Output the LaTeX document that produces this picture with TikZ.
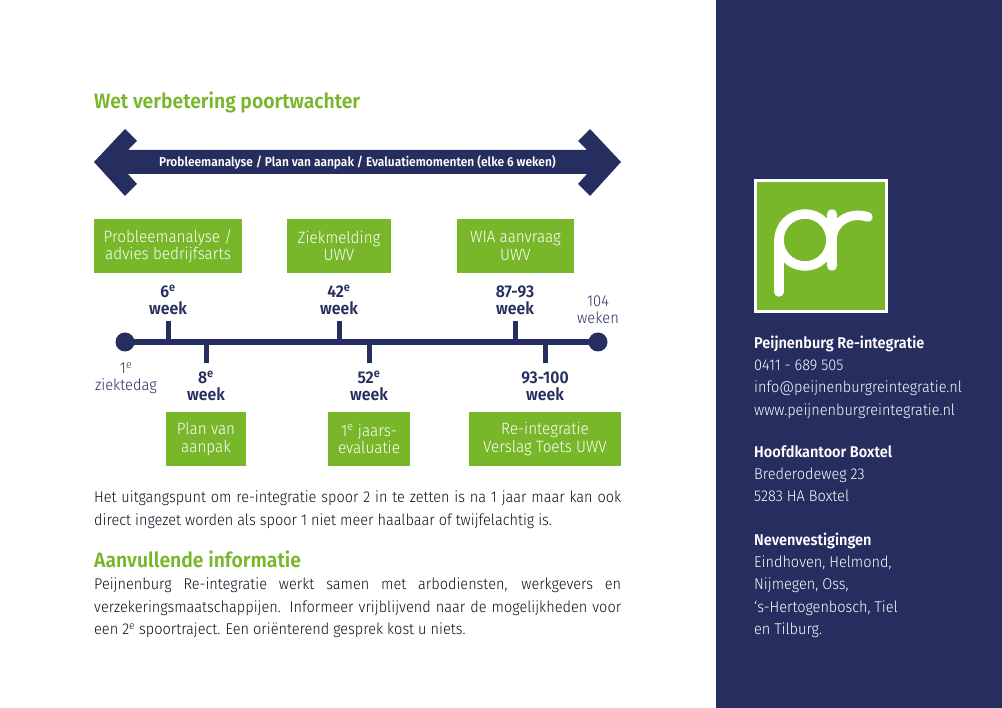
\documentclass[tikz,border=0pt]{standalone}
\usepackage{fontspec}
\usepackage{xcolor}
\setmainfont{Fira Sans}[UprightFont=* Light,BoldFont=* SemiBold,FakeStretch=0.93]
\definecolor{paletteNavy}{HTML}{262D5F}
\definecolor{paletteGreen}{HTML}{78B72A}
\newcommand{\ee}{\textsuperscript{e}}
\newcommand{\fsize}[2]{\fontsize{#1}{#2}\selectfont}

\begin{document}
\begin{tikzpicture}[
  x=1pt, y=-1pt,
  greenbox/.style={fill=paletteGreen, text=white, align=center, minimum height=54, inner sep=0pt, font=\fsize{16.4}{17.5}},
  heading/.style={anchor=base west, inner sep=0pt, text=paletteGreen, font=\fsize{20.8}{24}\bfseries},
  weeklabel/.style={align=center, inner sep=0pt, text=paletteNavy, font=\fsize{17}{17}\bfseries},
  endlabel/.style={align=center, inner sep=0pt, text=paletteNavy, font=\fsize{15.8}{17}},
  enddot/.style={circle, fill=paletteNavy, minimum size=19, inner sep=0pt},
  timeline/.style={draw=paletteNavy, line width=6pt},
  tick/.style={draw=paletteNavy, line width=5pt},
  bodytext/.style={anchor=north west, inner sep=0pt, text=black!72!paletteNavy, text width=527, align=justify, font=\fsize{15.6}{22.3}},
  sidetext/.style={anchor=north west, inner sep=0pt, text=white, align=left, font=\fsize{15.6}{22.1}}
]
\useasboundingbox (0,0) rectangle (1002,708);
\fill[white] (0,0) rectangle (1002,708);
\fill[paletteNavy] (716,0) rectangle (1002,708);

\node[heading] (title) at (94,109) {Wet verbetering poortwachter};

% double arrow
\fill[paletteNavy] (94,162) -- (125,129) -- (137,141) -- (128,150) -- (587,150) -- (578,141) -- (590,129)
  -- (621,162) -- (590,196) -- (578,184) -- (587,174) -- (128,174) -- (137,184) -- (125,196) -- cycle;
\node[text=white, inner sep=0pt, font=\fsize{12.85}{14}\bfseries] (cycle) at (357.5,162) {Probleemanalyse / Plan van aanpak / Evaluatiemomenten (elke 6 weken)};

% boxes above the line
\node[greenbox, minimum width=148] (analyse) at (168,246) {Probleemanalyse /\\advies bedrijfsarts};
\node[greenbox, minimum width=104] (melding) at (339,246) {Ziekmelding\\UWV};
\node[greenbox, minimum width=117] (wia) at (515.5,246) {WIA aanvraag\\UWV};

% time line
\node[enddot] (start) at (125,342) {};
\node[enddot] (end) at (598,342) {};
\draw[timeline] (start.center) -- (end.center);
\newcommand{\uptick}[3]{%
  \coordinate (#1a) at (#2,342);
  \coordinate (#1b) at (#2,321);
  \draw[tick] (#1a) -- (#1b);
  \node[weeklabel] (#1) at (#2,300) {#3};
}
\newcommand{\downtick}[3]{%
  \coordinate (#1a) at (#2,342);
  \coordinate (#1b) at (#2,363);
  \draw[tick] (#1a) -- (#1b);
  \node[weeklabel] (#1) at (#2,386) {#3};
}
\uptick{wk6}{168}{6\ee\\week}
\uptick{wk42}{339}{42\ee\\week}
\uptick{wk87}{515}{87-93\\week}
\downtick{wk8}{206}{8\ee\\week}
\downtick{wk52}{369}{52\ee\\week}
\downtick{wk93}{545}{93-100\\week}
\node[endlabel] (firstday) at (126,378) {1\ee\\ziektedag};
\node[endlabel] (lastweek) at (598,310) {104\\weken};

% boxes below the line
\node[greenbox, minimum width=80] (plan) at (206,439) {Plan van\\aanpak};
\node[greenbox, minimum width=82] (jaars) at (369,439) {1\ee\ jaars-\\evaluatie};
\node[greenbox, minimum width=152] (verslag) at (545,439) {Re-integratie\\Verslag Toets UWV};

% text blocks
\node[bodytext] (uitgang) at (94,491) {Het uitgangspunt om re-integratie spoor 2 in te zetten is na 1 jaar maar kan ook\linebreak direct ingezet worden als spoor 1 niet meer haalbaar of twijfelachtig is.};
\node[heading] (extra) at (94,567) {Aanvullende informatie};
\node[bodytext] (info) at (94,578) {Peijnenburg Re-integratie werkt samen met arbodiensten, werkgevers en\linebreak verzekeringsmaatschappijen. Informeer vrijblijvend naar de mogelijkheden voor\linebreak een 2\ee\ spoortraject. Een oriënterend gesprek kost u niets.};

% logo
\node[draw=white, line width=3pt, fill=paletteGreen, minimum size=131, inner sep=0pt] (logo) at (821,246) {};
\draw[white, line width=9.5pt, line cap=round] (805,240) ++(-26,0) arc[start angle=180, end angle=-180, radius=26];
\draw[white, line width=9.5pt, line cap=round] (779,240) -- (779,292);
\draw[white, line width=9.5pt, line cap=round] (832,214) -- (832,266);
\draw[white, line width=9.5pt, line cap=round] (832,240) .. controls (832,222) and (850,211) .. (868,217);

% contact column
\node[sidetext] (contact) at (754,336) {\textbf{Peijnenburg Re-integratie}\\0411 - 689 505\\info@peijnenburgreintegratie.nl\\www.peijnenburgreintegratie.nl};
\node[sidetext] (kantoor) at (754,445) {\textbf{Hoofdkantoor Boxtel}\\Brederodeweg 23\\5283 HA Boxtel};
\node[sidetext] (vestiging) at (754,533) {\textbf{Nevenvestigingen}\\Eindhoven, Helmond,\\Nijmegen, Oss,\\‘s-Hertogenbosch, Tiel\\en Tilburg.};
\end{tikzpicture}
\end{document}
